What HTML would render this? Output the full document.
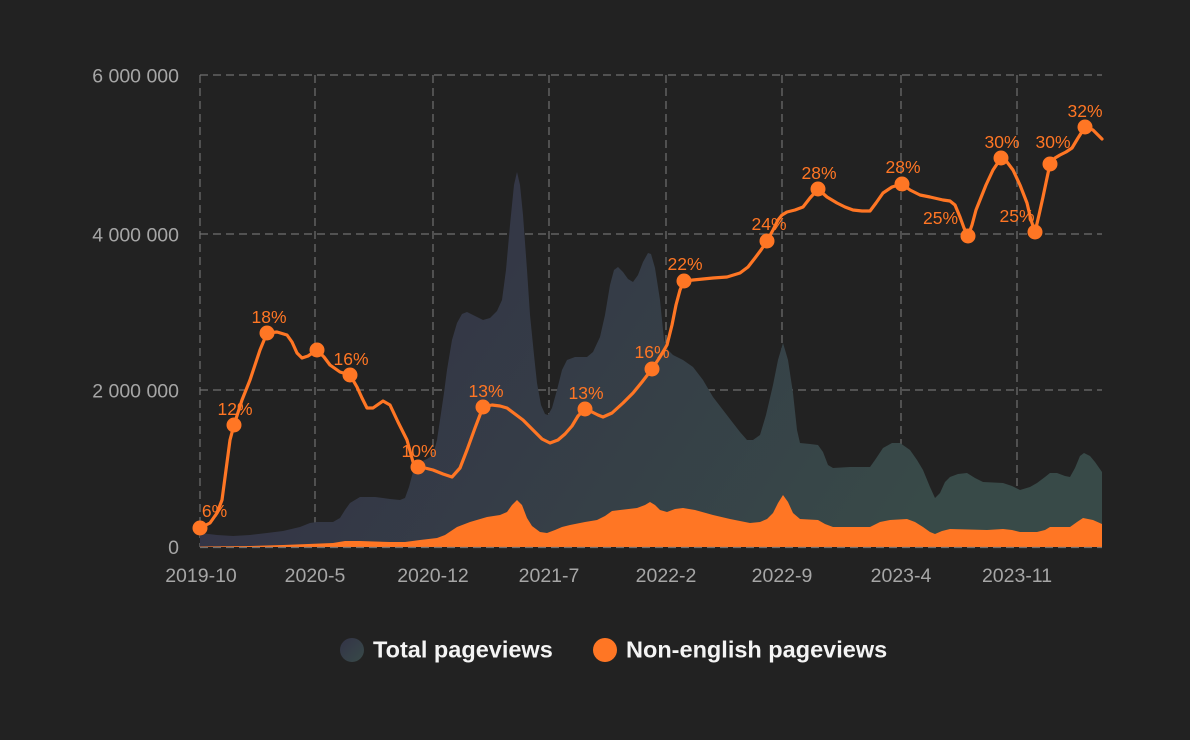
<!DOCTYPE html>
<html>
<head>
<meta charset="utf-8">
<style>
html,body{margin:0;padding:0;background:#222222;}
body{width:1190px;height:740px;overflow:hidden;}
svg{display:block;}
.tk{font-family:"Liberation Sans",Arial,sans-serif;font-size:19.5px;fill:#a6a6a6;}
.pl{font-family:"Liberation Sans",Arial,sans-serif;font-size:17.5px;fill:#ff7624;text-anchor:middle;}
.lg{font-family:"Liberation Sans",Arial,sans-serif;font-size:23.5px;font-weight:bold;fill:#f4f4f4;}
</style>
</head>
<body>
<svg width="1190" height="740" viewBox="0 0 1190 740" xmlns="http://www.w3.org/2000/svg">
<defs>
<linearGradient id="tg" x1="380" y1="200" x2="900" y2="547" gradientUnits="userSpaceOnUse">
<stop offset="0" stop-color="#333346"/>
<stop offset="1" stop-color="#384a48"/>
</linearGradient>
<linearGradient id="lg1" x1="0" y1="0" x2="1" y2="1">
<stop offset="0" stop-color="#333347"/>
<stop offset="1" stop-color="#384a48"/>
</linearGradient>
</defs>
<rect width="1190" height="740" fill="#222222"/>

<!-- grid -->
<g stroke="#707070" stroke-width="1.2" stroke-dasharray="8,5" fill="none">
<line x1="200" y1="75" x2="1102" y2="75"/>
<line x1="200" y1="234" x2="1102" y2="234"/>
<line x1="200" y1="390" x2="1102" y2="390"/>
<line x1="200" y1="75" x2="200" y2="547"/>
<line x1="315" y1="75" x2="315" y2="547"/>
<line x1="433" y1="75" x2="433" y2="547"/>
<line x1="549" y1="75" x2="549" y2="547"/>
<line x1="666" y1="75" x2="666" y2="547"/>
<line x1="782" y1="75" x2="782" y2="547"/>
<line x1="901" y1="75" x2="901" y2="547"/>
<line x1="1017" y1="75" x2="1017" y2="547"/>
</g>

<!-- total area -->
<path fill="url(#tg)" d="M200,547 L200,533 L217,535 L233,536 L250,535 L267,533 L283,531 L300,527 L310,523 L317,522 L333,522 L340,518 L345,510 L350,503 L360,497 L375,497 L390,499 L400,500 L405,498 L409,487 L413,472 L420,462 L427,459 L433,455 L437,440 L440,420 L444,393 L447,370 L452,340 L457,323 L462,314 L467,312 L475,316 L483,320 L490,318 L497,311 L502,300 L506,270 L510,225 L514,185 L517,172 L520,185 L523,215 L527,270 L530,315 L534,355 L537,383 L541,405 L545,414 L548,415 L552,408 L557,390 L562,370 L567,360 L575,357 L587,357 L593,352 L600,337 L605,315 L610,285 L614,270 L618,267 L623,272 L628,279 L633,282 L638,275 L643,262 L648,253 L651,254 L655,268 L660,300 L664,340 L668,350 L673,355 L683,360 L693,367 L703,380 L713,397 L723,410 L733,423 L740,432 L747,440 L753,440 L760,435 L766,415 L773,385 L778,360 L783,343 L788,360 L793,393 L797,430 L800,443 L810,444 L818,445 L823,452 L828,465 L833,468 L850,467 L870,467 L875,460 L883,448 L892,443 L900,443 L910,450 L917,460 L923,470 L930,487 L935,498 L940,493 L945,482 L950,477 L958,474 L967,473 L975,478 L983,482 L1003,483 L1012,486 L1020,490 L1030,487 L1037,483 L1045,477 L1050,473 L1057,473 L1065,476 L1070,477 L1075,468 L1080,456 L1084,453 L1090,456 L1095,462 L1102,472 L1102,547 Z"/>

<!-- non-english area -->
<path fill="#ff7624" d="M200,547 L200,546.5 L250,546 L283,545 L333,543 L345,541 L360,541 L390,542 L405,542 L420,540 L437,538 L445,535 L457,527 L470,522 L487,517 L500,515 L507,512 L512,505 L517,500 L522,505 L527,518 L532,526 L540,532 L547,533 L555,530 L562,527 L570,525 L585,522 L597,520 L605,516 L612,511 L620,510 L637,508 L645,505 L650,502 L655,505 L660,510 L667,512 L675,509 L683,508 L695,510 L713,515 L730,519 L750,523 L760,522 L767,519 L773,513 L778,503 L783,495 L788,502 L793,513 L800,519 L818,520 L825,524 L833,527 L870,527 L880,522 L890,520 L907,519 L915,522 L923,527 L930,532 L935,534 L942,531 L950,529 L987,530 L1003,529 L1012,530 L1020,532 L1037,532 L1045,530 L1050,527 L1070,527 L1077,522 L1083,518 L1093,520 L1102,524 L1102,547 Z"/>

<!-- baseline grid -->
<line x1="200" y1="547.5" x2="1102" y2="547.5" stroke="#707070" stroke-width="1.2" stroke-dasharray="8,5"/>

<!-- line series -->
<path fill="none" stroke="#ff7624" stroke-width="3.2" stroke-linejoin="round" stroke-linecap="round" d="M200,528 L210,523 L217,513 L222,500 L226,470 L230,440 L234,425 L242,400 L250,380 L256,362 L260,350 L267,333 L277,332 L287,335 L292,342 L297,353 L302,358 L308,356 L317,350 L324,357 L330,365 L340,372 L350,375 L357,387 L362,398 L367,408 L373,408 L383,401 L390,405 L398,422 L407,440 L413,462 L418,467 L425,468 L433,470 L443,474 L452,477 L460,468 L467,450 L475,428 L483,407 L492,405 L500,406 L507,408 L515,414 L523,420 L533,430 L542,439 L550,443 L558,440 L565,434 L572,426 L578,416 L585,409 L592,412 L598,415 L603,417 L612,413 L623,403 L633,393 L642,382 L652,369 L660,357 L667,345 L672,325 L676,305 L680,290 L684,281 L693,280 L703,279 L713,278 L727,277 L740,273 L748,267 L755,258 L761,250 L767,241 L773,230 L778,220 L782,215 L787,212 L795,210 L803,207 L810,198 L818,189 L827,197 L837,203 L845,207 L853,210 L862,211 L870,211 L876,203 L883,193 L892,187 L902,184 L910,190 L920,195 L930,197 L943,200 L950,201 L955,205 L960,217 L964,228 L968,236 L972,225 L976,210 L980,200 L986,185 L993,170 L1001,158 L1007,162 L1013,170 L1020,185 L1027,203 L1031,220 L1035,232 L1039,215 L1043,197 L1047,178 L1050,164 L1055,158 L1060,155 L1066,152 L1072,148 L1078,138 L1085,127 L1093,130 L1102,139"/>

<!-- markers -->
<g fill="#ff7624">
<circle cx="200" cy="528" r="7.5"/>
<circle cx="234" cy="425" r="7.5"/>
<circle cx="267" cy="333" r="7.5"/>
<circle cx="317" cy="350" r="7.5"/>
<circle cx="350" cy="375" r="7.5"/>
<circle cx="418" cy="467" r="7.5"/>
<circle cx="483" cy="407" r="7.5"/>
<circle cx="585" cy="409" r="7.5"/>
<circle cx="652" cy="369" r="7.5"/>
<circle cx="684" cy="281" r="7.5"/>
<circle cx="767" cy="241" r="7.5"/>
<circle cx="818" cy="189" r="7.5"/>
<circle cx="902" cy="184" r="7.5"/>
<circle cx="968" cy="236" r="7.5"/>
<circle cx="1001" cy="158" r="7.5"/>
<circle cx="1035" cy="232" r="7.5"/>
<circle cx="1050" cy="164" r="7.5"/>
<circle cx="1085" cy="127" r="7.5"/>
</g>

<!-- point labels -->
<text class="pl" x="214.5" y="517">6%</text>
<text class="pl" x="235" y="415">12%</text>
<text class="pl" x="269" y="323">18%</text>
<text class="pl" x="351" y="365">16%</text>
<text class="pl" x="419" y="457">10%</text>
<text class="pl" x="486" y="397">13%</text>
<text class="pl" x="586" y="399">13%</text>
<text class="pl" x="652" y="358">16%</text>
<text class="pl" x="685" y="270">22%</text>
<text class="pl" x="769" y="230">24%</text>
<text class="pl" x="819" y="179">28%</text>
<text class="pl" x="903" y="173">28%</text>
<text class="pl" x="940.5" y="224">25%</text>
<text class="pl" x="1002" y="148">30%</text>
<text class="pl" x="1017" y="222">25%</text>
<text class="pl" x="1053" y="148">30%</text>
<text class="pl" x="1085" y="117">32%</text>

<!-- y axis labels -->
<g class="tk" text-anchor="end">
<text x="179" y="82.5">6 000 000</text>
<text x="179" y="241.5">4 000 000</text>
<text x="179" y="397.5">2 000 000</text>
<text x="179" y="554">0</text>
</g>

<!-- x axis labels -->
<g class="tk" text-anchor="middle">
<text x="201" y="582">2019-10</text>
<text x="315" y="582">2020-5</text>
<text x="433" y="582">2020-12</text>
<text x="549" y="582">2021-7</text>
<text x="666" y="582">2022-2</text>
<text x="782" y="582">2022-9</text>
<text x="901" y="582">2023-4</text>
<text x="1017" y="582">2023-11</text>
</g>

<!-- legend -->
<circle cx="352" cy="650" r="12" fill="url(#lg1)"/>
<text class="lg" x="373" y="657.5">Total pageviews</text>
<circle cx="605" cy="650" r="12" fill="#ff7624"/>
<text class="lg" x="626" y="657.5">Non-english pageviews</text>
</svg>
</body>
</html>
